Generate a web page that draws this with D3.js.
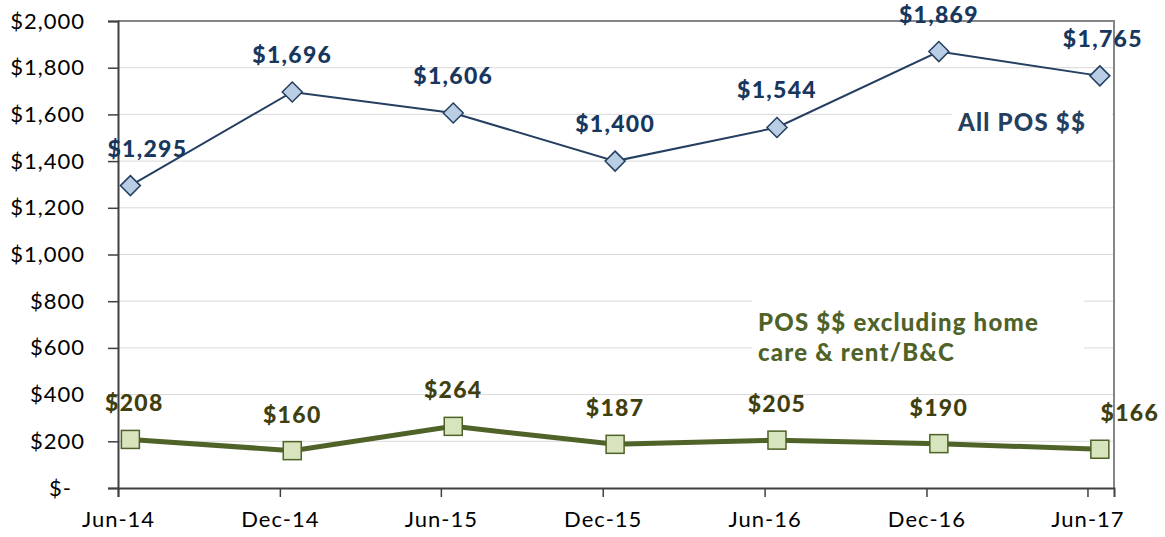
<!DOCTYPE html>
<html lang="en">
<head>
<meta charset="UTF-8">
<title>POS $$ over time</title>
<script src="https://d3js.org/d3.v7.min.js"></script>
<style>
    body { margin: 0; background: #fff; }
    svg text { font-family: Lato, "Open Sans", sans-serif; }
</style>
</head>
<body>
<div id="chart"></div>
<script>
    // Data
    const periods = ["Jun-14", "Dec-14", "Jun-15", "Dec-15", "Jun-16", "Dec-16", "Jun-17"];
    const periodDates = ["2014-06-15", "2014-12-15", "2015-06-15", "2015-12-15", "2016-06-15", "2016-12-15", "2017-06-15"];
    const tickDates = ["2014-06-01", "2014-12-01", "2015-06-01", "2015-12-01", "2016-06-01", "2016-12-01", "2017-06-01"];
    const allPos = [1295, 1696, 1606, 1400, 1544, 1869, 1765];
    const posExcl = [208, 160, 264, 187, 205, 190, 166];
    const yTicks = [0, 200, 400, 600, 800, 1000, 1200, 1400, 1600, 1800, 2000];

    const width = 1165, height = 537;
    const margin = { top: 21, right: 51, bottom: 49, left: 118 };
    const parse = d3.timeParse("%Y-%m-%d");

    const svg = d3.select("#chart").append("svg")
        .attr("width", width)
        .attr("height", height);

    const x = d3.scaleTime()
        .domain([parse("2014-06-01"), parse("2017-07-01")])
        .range([margin.left, width - margin.right]);

    const y = d3.scaleLinear()
        .domain([0, 2000])
        .range([height - margin.bottom, margin.top]);

    const fmt = d => d === 0 ? "$-" : "$" + d3.format(",")(d);

    // gridlines
    svg.append("g")
        .selectAll("line")
        .data(yTicks.filter(d => d > 0))
        .enter().append("line")
        .attr("x1", margin.left).attr("x2", width - margin.right)
        .attr("y1", d => y(d)).attr("y2", d => y(d))
        .attr("stroke", "#d9d9d9").attr("stroke-width", 1);

    // plot border (top + right)
    svg.append("path")
        .attr("d", `M${margin.left},${margin.top}H${width - margin.right}V${height - margin.bottom}`)
        .attr("fill", "none").attr("stroke", "#868686").attr("stroke-width", 2);

    // y axis
    const yAxis = svg.append("g")
        .attr("transform", `translate(${margin.left},0)`)
        .call(d3.axisLeft(y).tickValues(yTicks).tickFormat(fmt).tickSize(10).tickPadding(23));
    yAxis.select(".domain").attr("stroke", "#404040").attr("stroke-width", 2);
    yAxis.selectAll(".tick line").attr("stroke", "#404040").attr("stroke-width", 1.5);
    yAxis.selectAll(".tick text")
        .attr("font-size", 22).attr("letter-spacing", 1).attr("fill", "#000")
        .attr("dx", d => d === 0 ? -13 : 0);

    // x axis
    const xAxis = svg.append("g")
        .attr("transform", `translate(0,${height - margin.bottom})`)
        .call(d3.axisBottom(x).tickValues(tickDates.map(parse))
            .tickFormat((d, i) => periods[i]).tickSize(9).tickPadding(14));
    xAxis.select(".domain").attr("stroke", "#404040").attr("stroke-width", 2);
    xAxis.selectAll(".tick line").attr("stroke", "#404040").attr("stroke-width", 1.5);
    xAxis.selectAll(".tick text").attr("font-size", 22).attr("letter-spacing", 1).attr("fill", "#000");

    // series names (white box behind, interrupts gridlines)
    svg.append("rect").attr("x", 952).attr("y", 104).attr("width", 160).attr("height", 34).attr("fill", "#fff");
    svg.append("text").attr("x", 958).attr("y", 131)
        .attr("font-size", 24).attr("letter-spacing", 1.2).attr("font-weight", 900).attr("fill", "#243f60")
        .text("All POS $$");

    svg.append("rect").attr("x", 752).attr("y", 296).attr("width", 332).attr("height", 70).attr("fill", "#fff");
    const lg = svg.append("text").attr("font-size", 24).attr("letter-spacing", 1.2)
        .attr("font-weight", 900).attr("fill", "#4f6228");
    lg.append("tspan").attr("x", 758).attr("y", 331).text("POS $$ excluding home");
    lg.append("tspan").attr("x", 758).attr("y", 361).text("care & rent/B&C");

    const pts = periodDates.map(parse);

    // All POS series
    const line = d3.line().x(d => x(d[0])).y(d => y(d[1]));
    const s1 = pts.map((d, i) => [d, allPos[i]]);
    svg.append("path").datum(s1)
        .attr("d", line).attr("fill", "none")
        .attr("stroke", "#243f60").attr("stroke-width", 2);
    svg.append("g").selectAll("path")
        .data(s1).enter().append("path")
        .attr("transform", d => `translate(${x(d[0])},${y(d[1])})`)
        .attr("d", "M0,-10L10,0L0,10L-10,0Z")
        .attr("fill", "#b9cde5").attr("stroke", "#243f60").attr("stroke-width", 1.5);
    svg.append("g").selectAll("text")
        .data(s1).enter().append("text")
        .attr("x", (d, i) => x(d[0]) + (i === 0 ? 17 : i === 6 ? 3 : 0))
        .attr("y", d => y(d[1]) - 29)
        .attr("text-anchor", "middle")
        .attr("font-size", 23).attr("letter-spacing", 1.3).attr("font-weight", 900).attr("fill", "#17375e")
        .text(d => fmt(d[1]));

    // POS excl. series
    const s2 = pts.map((d, i) => [d, posExcl[i]]);
    svg.append("path").datum(s2)
        .attr("d", line).attr("fill", "none")
        .attr("stroke", "#4f6228").attr("stroke-width", 5);
    svg.append("g").selectAll("rect")
        .data(s2).enter().append("rect")
        .attr("x", d => x(d[0]) - 9).attr("y", d => y(d[1]) - 9)
        .attr("width", 18).attr("height", 18)
        .attr("fill", "#d7e4bd").attr("stroke", "#4f6228").attr("stroke-width", 1.5);
    svg.append("g").selectAll("text")
        .data(s2).enter().append("text")
        .attr("x", (d, i) => x(d[0]) + (i === 0 ? 4 : i === 6 ? 30 : 0))
        .attr("y", d => y(d[1]) - 28)
        .attr("text-anchor", "middle")
        .attr("font-size", 23).attr("letter-spacing", 1.3).attr("font-weight", 900).attr("fill", "#3f3f0f")
        .text(d => fmt(d[1]));
</script>
</body>
</html>
